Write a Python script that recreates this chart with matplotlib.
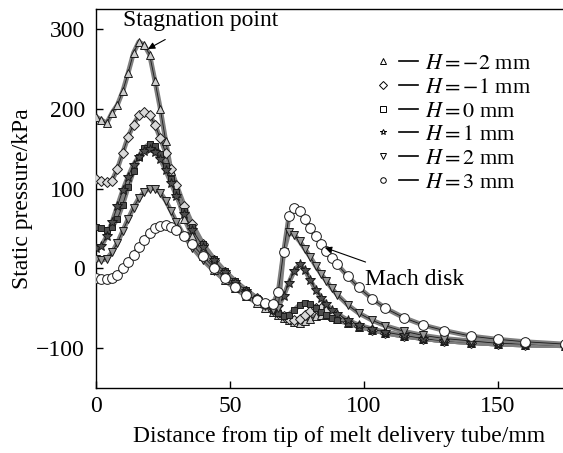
import numpy as np
import matplotlib
matplotlib.use("Agg")
import matplotlib.pyplot as plt
from matplotlib.lines import Line2D
from matplotlib.legend_handler import HandlerTuple

plt.rcParams['font.family'] = 'Liberation Serif'
plt.rcParams['mathtext.fontset'] = 'stix'

# -------------------------------
# Data
# -------------------------------
x_mm = [0, 2, 4, 6, 8, 10, 12, 14, 16, 18, 20, 22, 24, 26, 28, 30, 33, 36, 40,
        44, 48, 52, 56, 60, 63, 66, 68, 70, 72, 74, 76, 78, 80, 82, 84, 86, 88,
        90, 94, 98, 103, 108, 115, 122, 130, 140, 150, 160, 175]

p_hm2 = [190, 186, 182, 195, 205, 222, 245, 270, 284, 280, 268, 235, 200, 160,
         122, 95, 62, 40, 15, -2, -15, -25, -35, -43, -50, -55, -58, -62, -65,
         -67, -68, -66, -63, -60, -58, -58, -60, -63, -68, -73, -77, -81, -85,
         -88, -91, -93, -95, -96, -97]
p_hm1 = [112, 110, 108, 110, 125, 145, 165, 180, 192, 196, 192, 180, 163, 145,
         125, 105, 78, 55, 30, 10, -5, -18, -28, -37, -45, -52, -56, -60, -63,
         -65, -63, -58, -53, -50, -50, -53, -57, -61, -67, -72, -77, -81, -85,
         -88, -91, -93, -95, -96, -97]
p_h0 = [52, 50, 48, 52, 62, 80, 102, 122, 140, 151, 156, 153, 143, 128, 112,
        96, 72, 52, 30, 12, -3, -16, -27, -37, -45, -52, -56, -60, -58, -52,
        -46, -43, -45, -50, -55, -59, -62, -65, -69, -73, -77, -81, -85, -88,
        -91, -93, -95, -96, -97]
p_h1 = [25, 28, 40, 58, 78, 98, 115, 130, 140, 147, 149, 146, 137, 123, 107,
        91, 68, 48, 27, 10, -5, -17, -28, -38, -45, -50, -48, -35, -18, -3, 5,
        -2, -15, -27, -37, -45, -52, -57, -65, -71, -76, -80, -84, -88, -91,
        -93, -95, -96, -97]
p_h2 = [12, 10, 12, 20, 32, 47, 62, 76, 88, 96, 100, 100, 95, 85, 72, 58, 40,
        26, 10, -3, -14, -23, -32, -40, -47, -52, -50, 20, 45, 42, 34, 24, 14,
        3, -7, -16, -25, -33, -46, -56, -65, -72, -79, -84, -88, -91, -94, -95,
        -97]
p_h3 = [-12, -13, -14, -12, -8, 0, 8, 17, 27, 36, 44, 50, 53, 54, 52, 48, 40,
        30, 15, 1, -12, -24, -33, -40, -44, -45, -30, 20, 65, 75, 72, 62, 50,
        40, 31, 22, 13, 5, -10, -24, -38, -50, -62, -71, -78, -85, -89, -92,
        -95]

series = [p_hm2, p_hm1, p_h0, p_h1, p_h2, p_h3]
labels = [r'$H=-2$ mm', r'$H=-1$ mm', r'$H=0$ mm', r'$H=1$ mm', r'$H=2$ mm', r'$H=3$ mm']
markers = ['^', 'D', 's', '*', 'v', 'o']
faces = ['0.8', '0.85', '0.3', '0.3', '0.6', 'white']
msizes = [6, 5, 5, 7, 6, 7]

# -------------------------------
# Plot
# -------------------------------
fig = plt.figure(figsize=(5.63, 4.53), dpi=100)
ax = fig.add_axes([0.1705, 0.1435, 0.8295, 0.8365])

for p, m, fc, ms in zip(series, markers, faces, msizes):
    ax.plot(x_mm, p, color='0.5', lw=3.5, solid_capstyle='round', zorder=2)
    ax.plot(x_mm, p, color='0.1', lw=0.6, zorder=2)
    ax.plot(x_mm, p, ls='none', marker=m, ms=ms, mfc=fc, mec='0.1', mew=0.7, zorder=3)

ax.set_xlim(0, 174.3)
ax.set_ylim(-150, 325)
ax.set_xticks([0, 50, 100, 150])
ax.set_yticks([-100, 0, 100, 200, 300])
ax.tick_params(direction='in', length=5, width=1, labelsize=17)
ax.tick_params(axis='y', pad=8)
ax.tick_params(axis='x', pad=6)
ax.spines['right'].set_visible(False)
for s in ['left', 'bottom', 'top']:
    ax.spines[s].set_linewidth(1)

ax.set_xlabel('Distance from tip of melt delivery tube/mm', fontsize=17)
ax.xaxis.set_label_coords(0.52, -0.129)
ax.xaxis.label.set_va('center')
ax.set_ylabel('Static pressure/kPa', fontsize=17, labelpad=2)

ax.annotate('Stagnation point', xy=(19.4, 275), xytext=(39, 311), fontsize=17,
            ha='center', va='center',
            arrowprops=dict(arrowstyle='-|>', color='k', lw=0.8, shrinkA=9, shrinkB=0,
                            mutation_scale=10))
ax.annotate('Mach disk', xy=(85.4, 26), xytext=(119, -14), fontsize=17,
            ha='center', va='center',
            arrowprops=dict(arrowstyle='-|>', color='k', lw=0.8, shrinkA=9, shrinkB=0,
                            mutation_scale=10))

handles = []
for m in markers:
    mk = Line2D([], [], ls='none', marker=m, ms=4, mfc='white', mec='k', mew=0.7)
    ln = Line2D([], [], color='k', lw=1.2)
    handles.append((mk, ln))
ax.legend(handles, labels, handler_map={tuple: HandlerTuple(ndivide=None, pad=0.3)},
          loc='upper right', bbox_to_anchor=(0.974, 0.935), frameon=False,
          fontsize=16, handlelength=2.0, handletextpad=0.3, labelspacing=0.14)

fig.savefig('out.png', dpi=100)
